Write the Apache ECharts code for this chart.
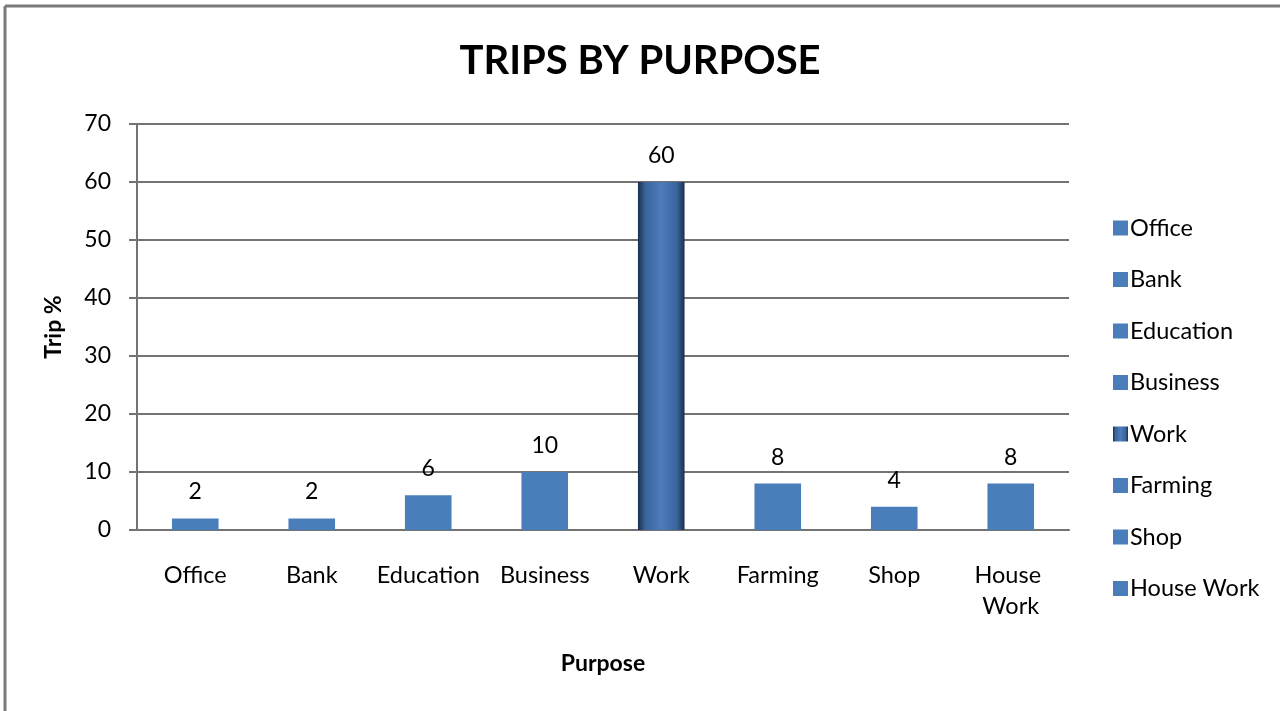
<!DOCTYPE html>
<html>
<head>
<meta charset="utf-8">
<title>Trips by Purpose</title>
<script src="https://cdn.jsdelivr.net/npm/echarts@6/dist/echarts.min.js"></script>
<style>
  html, body { margin: 0; padding: 0; background: #ffffff; }
  #chart { width: 1280px; height: 711px; }
</style>
</head>
<body>
<div id="chart"></div>
<script>
// Trip purposes and their share of all trips (%)
const purposes = ['Office', 'Bank', 'Education', 'Business', 'Work', 'Farming', 'Shop', 'House Work'];
const tripShare = [2, 2, 6, 10, 60, 8, 4, 8];
const yTicks = { min: 0, max: 70, interval: 10 };

const FONT = 'Lato, "Open Sans", sans-serif';
const BLUE = '#4a7ebb';
// Shaded fill used for the highlighted "Work" bar
const WORK_FILL = {
  type: 'linear', x: 0, y: 0, x2: 1, y2: 0,
  colorStops: [
    { offset: 0, color: '#1b2f4d' },
    { offset: 0.16, color: '#3a649b' },
    { offset: 0.5, color: '#4c7cba' },
    { offset: 0.84, color: '#3a649b' },
    { offset: 1, color: '#1b2f4d' }
  ]
};

// One series per purpose so each appears in the legend; stacked so they share a slot
const series = purposes.map((name, i) => ({
  name: name,
  type: 'bar',
  stack: 'purpose',
  barWidth: '40%',
  data: purposes.map((_, j) => (j === i ? tripShare[i] : '-')),
  itemStyle: { color: name === 'Work' ? WORK_FILL : BLUE },
  label: {
    show: true,
    position: 'top',
    distance: 15,
    color: '#000',
    fontFamily: FONT,
    fontSize: 23
  }
}));

const chart = echarts.init(document.getElementById('chart'), null, { renderer: 'canvas' });
chart.setOption({
  animation: false,
  backgroundColor: '#ffffff',
  title: {
    text: 'TRIPS BY PURPOSE',
    left: 'center',
    top: 36,
    textStyle: { fontFamily: FONT, fontWeight: 'bold', fontSize: 40, color: '#000' }
  },
  legend: {
    orient: 'vertical',
    left: 1108,
    top: 210,
    itemWidth: 15,
    itemHeight: 15,
    itemGap: 25.5,
    icon: 'rect',
    textStyle: { fontFamily: FONT, fontSize: 23.5, color: '#000', lineHeight: 26, padding: [0, 0, 0, -3] },
    data: purposes
  },
  grid: { left: 137, right: 211, top: 124, bottom: 181, containLabel: false },
  xAxis: {
    type: 'category',
    data: purposes,
    name: 'Purpose',
    nameLocation: 'middle',
    nameGap: 122,
    nameTextStyle: { fontFamily: FONT, fontWeight: 'bold', fontSize: 23, color: '#000' },
    axisLine: { show: true, lineStyle: { color: '#737373', width: 2 } },
    axisTick: { show: false },
    axisLabel: {
      interval: 0,
      margin: 30,
      color: '#000',
      fontFamily: FONT,
      fontSize: 23.5,
      lineHeight: 31,
      width: 112,
      overflow: 'break'
    }
  },
  yAxis: {
    type: 'value',
    min: yTicks.min,
    max: yTicks.max,
    interval: yTicks.interval,
    name: 'Trip %',
    nameLocation: 'middle',
    nameGap: 72,
    nameTextStyle: { fontFamily: FONT, fontWeight: 'bold', fontSize: 23, color: '#000' },
    axisLine: { show: true, lineStyle: { color: '#737373', width: 2 } },
    axisTick: { show: true, inside: false, length: 8, lineStyle: { color: '#737373', width: 2 } },
    axisLabel: { margin: 26, color: '#000', fontFamily: FONT, fontSize: 23 },
    splitLine: { show: true, lineStyle: { color: '#737373', width: 2 } }
  },
  graphic: [
    // chart frame (left and top edges)
    { type: 'line', shape: { x1: 5, y1: 6, x2: 5, y2: 711 }, style: { stroke: '#7a7a7a', lineWidth: 3 } },
    { type: 'line', shape: { x1: 5, y1: 6, x2: 1280, y2: 6 }, style: { stroke: '#7a7a7a', lineWidth: 3 } }
  ],
  series: series
});
</script>
</body>
</html>
